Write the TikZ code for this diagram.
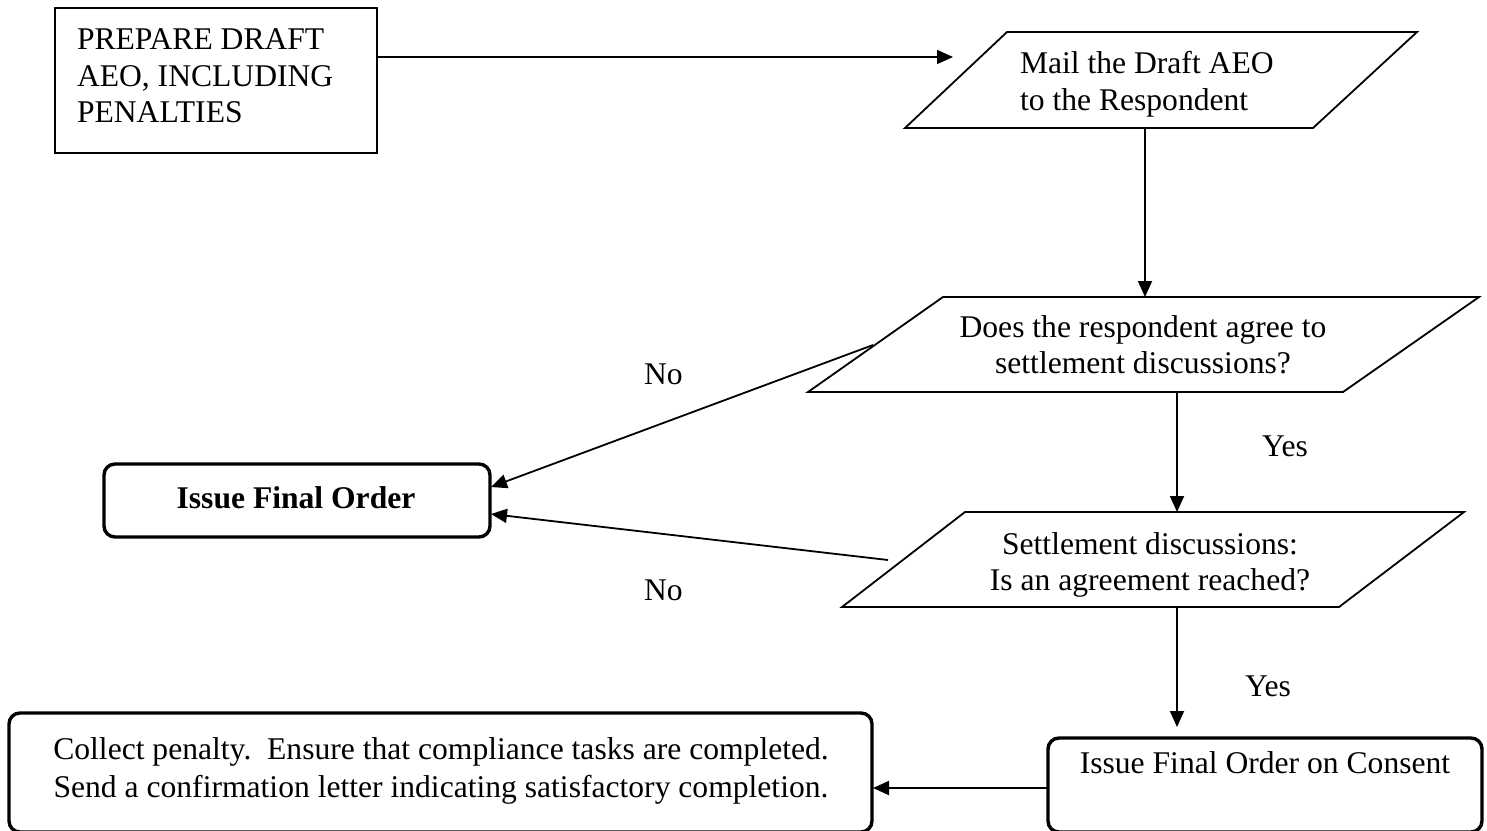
\documentclass[tikz,border=0pt]{standalone}
\usepackage{fontspec}
\setmainfont{Liberation Serif}
\usetikzlibrary{arrows.meta}
\begin{document}
\begin{tikzpicture}[x=1pt,y=-1pt,
  every node/.style={font=\fontsize{31.6}{36.6}\selectfont, inner sep=0pt, outer sep=0pt},
  lbl/.style={anchor=base west},
  ctr/.style={anchor=base},
  outline/.style={draw, line width=1.8pt, line join=miter},
  roundbox/.style={draw, line width=3.4pt, rounded corners=11pt},
  flow/.style={-{Triangle[length=16pt,width=14pt]}, line width=1.8pt},
]
\useasboundingbox (0,0) rectangle (1487,830);
\clip (0,0) rectangle (1487,830);

% ---- start box -------------------------------------------------------
\draw[outline] (55,8) rectangle (377,153);
\node[lbl] (prepA) at (77,49)  {PREPARE DRAFT};
\node[lbl] (prepB) at (77,86)  {AEO, INCLUDING};
\node[lbl] (prepC) at (77,122) {PENALTIES};
\coordinate (prepE) at (377,57);

% ---- mail step (parallelogram) ---------------------------------------
\draw[outline] (1007,32) -- (1417,32) -- (1313,128) -- (905,128) -- cycle;
\node[lbl] (mailA) at (1020,73)  {Mail the Draft AEO};
\node[lbl] (mailB) at (1020,110) {to the Respondent};
\coordinate (mailIn) at (953,57);
\coordinate (mailS) at (1145,128);

% ---- first question ---------------------------------------------------
\draw[outline] (943,297) -- (1479,297) -- (1343,392) -- (808,392) -- cycle;
\node[ctr] (askA) at (1143,337) {Does the respondent agree to};
\node[ctr] (askB) at (1143,373) {settlement discussions?};
\coordinate (askN) at (1145,297);
\coordinate (askW) at (873,345);
\coordinate (askS) at (1177,392);

% ---- second question --------------------------------------------------
\draw[outline] (965,512) -- (1464,512) -- (1339,607) -- (842,607) -- cycle;
\node[ctr] (setA) at (1150,554) {Settlement discussions:};
\node[ctr] (setB) at (1150,590) {Is an agreement reached?};
\coordinate (setN) at (1177,512);
\coordinate (setW) at (888,560);
\coordinate (setS) at (1177,607);

% ---- final order ------------------------------------------------------
\draw[roundbox] (104,464) rectangle (490,537);
\node[ctr, font=\fontsize{31.6}{36.6}\selectfont\bfseries] (final) at (296,508) {Issue Final Order};
\coordinate (finalA) at (491,487);
\coordinate (finalB) at (491,514);

% ---- final order on consent ---------------------------------------------
\draw[roundbox] (1048,738) rectangle (1482,832);
\node[ctr] (consent) at (1265,773) {Issue Final Order on Consent};
\coordinate (consentN) at (1177,727);
\coordinate (consentW) at (1048,788);

% ---- closing step -------------------------------------------------------
\draw[roundbox] (9,713) rectangle (872,832);
\node[ctr] (collA) at (441,759) {Collect penalty.\ \ Ensure that compliance tasks are completed.};
\node[ctr] (collB) at (441,797) {Send a confirmation letter indicating satisfactory completion.};
\coordinate (collE) at (873,788);

% ---- connectors ---------------------------------------------------------
\draw[flow] (prepE) -- (mailIn);
\draw[flow] (mailS) -- (askN);
\draw[flow] (askW) -- (finalA);
\draw[flow] (setW) -- (finalB);
\draw[flow] (askS) -- (setN);
\draw[flow] (setS) -- (consentN);
\draw[flow] (consentW) -- (collE);

% ---- branch labels --------------------------------------------------------
\node[lbl] (noA)  at (644,384) {No};
\node[lbl] (noB)  at (644,600) {No};
\node[lbl] (yesA) at (1262,456) {Yes};
\node[lbl] (yesB) at (1245,696) {Yes};
\end{tikzpicture}
\end{document}
